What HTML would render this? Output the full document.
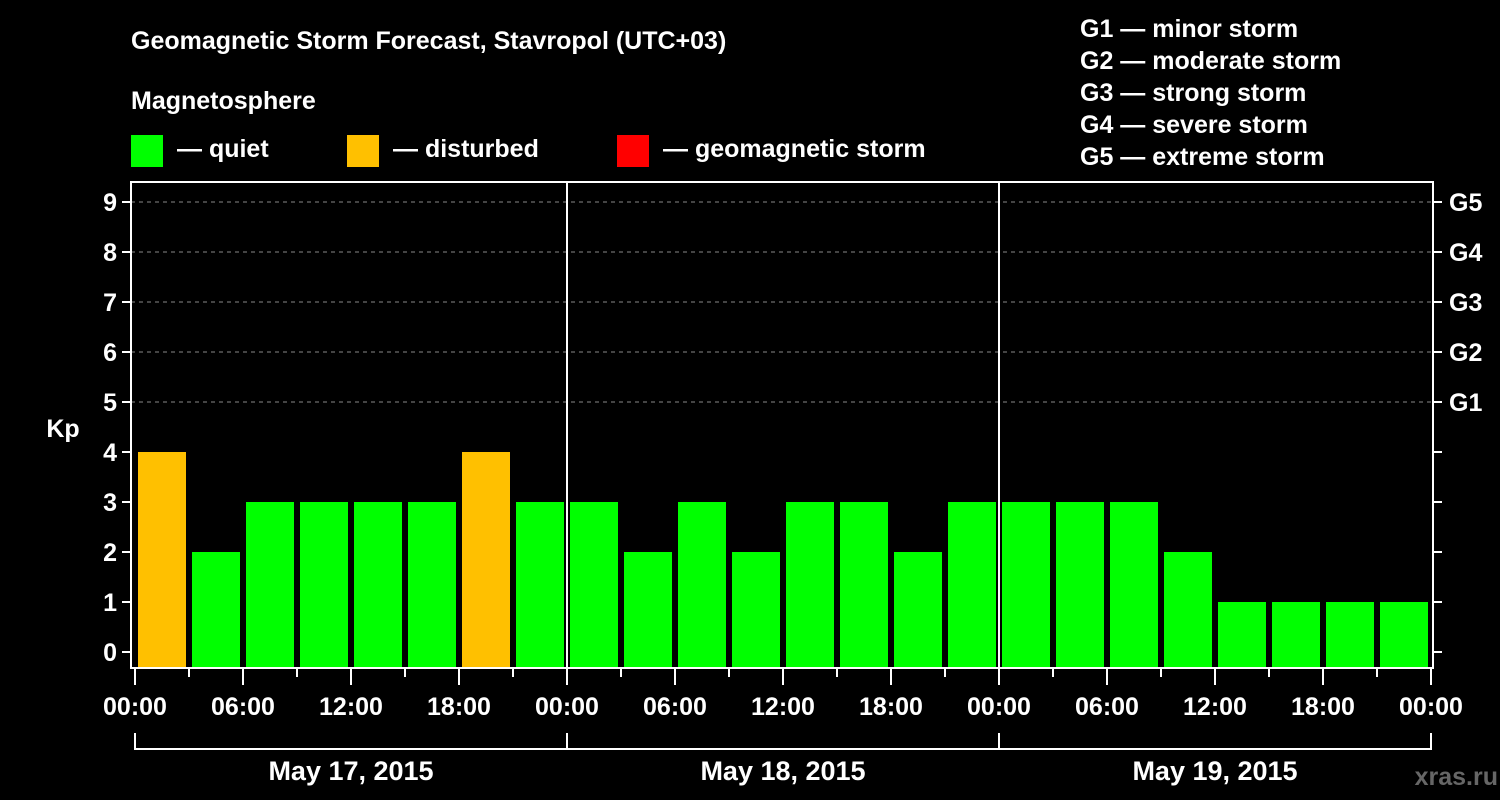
<!DOCTYPE html>
<html><head><meta charset="utf-8"><style>
body{margin:0;background:#000;}
svg{display:block;font-family:"Liberation Sans",sans-serif;font-weight:bold;}
</style></head><body>
<svg id="c" width="1500" height="800" viewBox="0 0 1500 800">
<rect width="1500" height="800" fill="#000"/>
<text x="131" y="49" fill="#fff" font-size="25">Geomagnetic Storm Forecast, Stavropol (UTC+03)</text>
<text x="131" y="109" fill="#fff" font-size="25">Magnetosphere</text>
<g><rect x="131" y="135" width="32" height="32" fill="#00ff00"/><text x="177" y="157" fill="#fff" font-size="25">— quiet</text></g>
<g><rect x="347" y="135" width="32" height="32" fill="#ffc000"/><text x="393" y="157" fill="#fff" font-size="25">— disturbed</text></g>
<g><rect x="617" y="135" width="32" height="32" fill="#ff0000"/><text x="663" y="157" fill="#fff" font-size="25">— geomagnetic storm</text></g>
<g fill="#fff" font-size="25">
<text x="1080" y="37">G1 — minor storm</text><text x="1080" y="69">G2 — moderate storm</text><text x="1080" y="101">G3 — strong storm</text><text x="1080" y="133">G4 — severe storm</text><text x="1080" y="165">G5 — extreme storm</text>
</g>
<text x="63" y="437" fill="#fff" font-size="25" text-anchor="middle">Kp</text>
<text x="1498" y="785" fill="#666" font-size="25" text-anchor="end">xras.ru</text>
<g id="g"></g>
</svg>
<script>
const kpValues=[4,2,3,3,3,3,4,3, 3,2,3,2,3,3,2,3, 3,3,3,2,1,1,1,1];
const yTicks=[0,1,2,3,4,5,6,7,8,9];
const gLabels=["G1","G2","G3","G4","G5"];
const xTickLabels=["00:00","06:00","12:00","18:00"];
const dayLabels=["May 17, 2015","May 18, 2015","May 19, 2015"];
const NS="http://www.w3.org/2000/svg";
const g=document.getElementById('g');
const X0=135,SLOT=54,Y0=652,UNIT=50,TOP=182,BOT=668,LEFT=131,RIGHT=1433;
const xs=i=>X0+i*SLOT;
const ys=v=>Y0-v*UNIT;
function mk(t,a,p){const e=document.createElementNS(NS,t);for(const k in a)e.setAttribute(k,a[k]);(p||g).appendChild(e);return e;}
// grid
for(let v=5;v<=9;v++){const l=mk('line',{x1:LEFT,x2:RIGHT,y1:ys(v),y2:ys(v),stroke:'#888','stroke-dasharray':'4,4','stroke-width':1});

}
// bars
kpValues.forEach((v,i)=>{const col=v>=5?'#ff0000':(v>=4?'#ffc000':'#00ff00');
const r=mk('rect',{x:xs(i)+3,y:ys(v),width:48,height:BOT-ys(v),fill:col});

});
// frame
const fr=mk('rect',{x:LEFT,y:TOP,width:RIGHT-LEFT,height:BOT-TOP,fill:'none',stroke:'#fff','stroke-width':2});


[1,2].forEach(d=>{const l=mk('line',{x1:xs(d*8),x2:xs(d*8),y1:TOP,y2:BOT,stroke:'#fff','stroke-width':2});

});
// y ticks
yTicks.forEach(v=>{mk('line',{x1:LEFT-9,x2:LEFT,y1:ys(v),y2:ys(v),stroke:'#fff','stroke-width':2});
mk('line',{x1:RIGHT,x2:RIGHT+9,y1:ys(v),y2:ys(v),stroke:'#fff','stroke-width':2});
const t=mk('text',{x:LEFT-14,y:ys(v)+9,fill:'#fff','font-size':25,'text-anchor':'end'});t.textContent=v;

});
gLabels.forEach((s,i)=>{const t=mk('text',{x:1449,y:ys(i+5)+9,fill:'#fff','font-size':25});t.textContent=s;

});
// x ticks
for(let i=0;i<=24;i++){const maj=i%2==0;mk('line',{x1:xs(i),x2:xs(i),y1:BOT,y2:maj?685:677,stroke:'#fff','stroke-width':2});
if(maj){const t=mk('text',{x:xs(i),y:715,fill:'#fff','font-size':25,'text-anchor':'middle'});t.textContent=xTickLabels[(i/2)%4];

}}
// day bracket
mk('line',{x1:xs(0),x2:xs(24),y1:749,y2:749,stroke:'#fff','stroke-width':2});
for(let d=0;d<=3;d++)mk('line',{x1:xs(d*8),x2:xs(d*8),y1:733,y2:750,stroke:'#fff','stroke-width':2});
dayLabels.forEach((s,d)=>{const t=mk('text',{x:xs(d*8+4),y:780,fill:'#fff','font-size':27,'text-anchor':'middle'});t.textContent=s;

});
</script>
</body></html>
